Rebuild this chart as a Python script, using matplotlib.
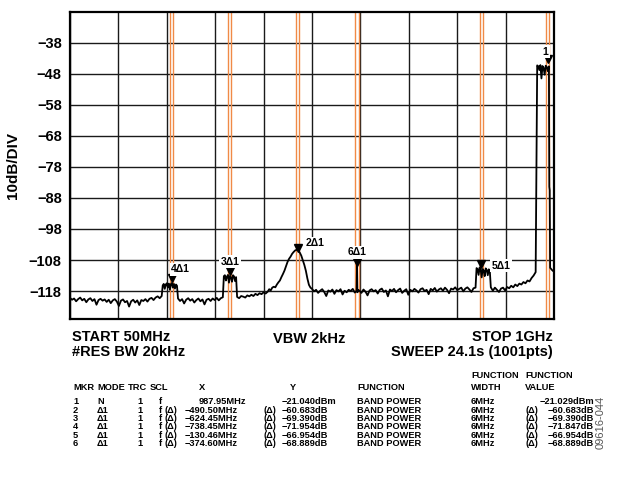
import numpy as np
import matplotlib.pyplot as plt
from matplotlib.transforms import ScaledTranslation

plt.rcParams['font.family'] = ['Liberation Sans', 'DejaVu Sans']
plt.rcParams['font.weight'] = 'bold'

MINUS = '\u2212'
DELTA = '\u0394'
W, H = 617, 497

# sweep settings (MHz) and display scale
start_mhz, stop_mhz = 50, 1000
y_ticks = [-38, -48, -58, -68, -78, -88, -98, -108, -118]
y_range = (-127.1, -28.1)

# trace readings, (first MHz, last MHz, levels in dB), evenly spaced in each run
floor_a = (50, 230, [-120.2, -120.8, -120.4, -121.3, -120.6, -120.1, -121.0, -120.5, -121.6, -120.7,
                     -120.3, -121.2, -120.6, -122.4, -120.9, -120.5, -121.1, -120.7, -121.5, -120.8,
                     -121.9, -121.0, -120.6, -121.4, -122.8, -121.1, -120.7, -121.6, -121.2, -123.0,
                     -121.3, -120.8, -121.7, -121.0, -122.5, -120.9, -121.2, -120.6, -121.4, -120.5,
                     -120.2, -120.9, -120.1, -119.7, -120.3, -119.6])
band_4 = (232, 260, [-116.2, -115.7, -117.3, -115.9, -115.5, -116.8, -115.6, -117.6, -115.8, -115.4,
                     -116.9, -115.7, -117.2, -115.9, -116.3])
floor_c = (262, 350, [-120.4, -121.2, -120.6, -122.0, -120.8, -120.3, -121.1, -120.6, -121.7, -120.9,
                      -120.4, -121.3, -120.7, -122.3, -120.8, -120.5, -121.2, -120.4, -120.9, -120.2,
                      -121.0, -120.3, -120.0])
band_3 = (352, 376, [-113.2, -112.9, -114.6, -113.4, -112.8, -115.3, -113.1, -113.6, -115.0, -112.9,
                     -113.3, -114.8, -113.5])
floor_e = (378, 438, [-119.9, -120.3, -119.6, -119.8, -120.1, -119.4, -119.7, -119.2, -119.6, -118.9,
                      -119.3, -118.7, -119.0, -118.4, -118.8, -118.2])
peak_2 = (441, 522, [-117.4, -117.8, -116.9, -116.6, -116.8, -115.9, -115.2, -114.6, -113.5, -112.5,
                     -111.4, -110.0, -108.6, -107.6, -106.9, -106.0, -105.4, -104.9, -104.7, -104.9,
                     -105.6, -106.6, -108.1, -109.6, -111.5, -114.0, -116.0, -116.9])
floor_f = (525, 609, [-117.3, -118.1, -117.6, -118.6, -117.9, -117.4, -118.3, -119.6, -117.8, -118.2,
                      -117.5, -118.9, -117.7, -118.1, -117.4, -119.1, -117.9, -118.4, -117.6, -118.0,
                      -117.3, -118.5])
floor_g = (618, 846, [-117.9, -118.6, -117.5, -118.2, -119.4, -117.8, -117.4, -118.1, -117.7, -118.8,
                      -117.6, -117.2, -118.3, -117.8, -119.7, -117.5, -118.0, -117.3, -118.4, -117.7,
                      -117.2, -118.6, -117.9, -117.4, -119.2, -117.6, -118.1, -117.3, -117.8, -118.5,
                      -117.4, -117.1, -118.0, -117.6, -119.0, -117.3, -117.8, -117.0, -118.2, -117.5,
                      -117.1, -117.9, -116.9, -117.6, -118.7, -117.2, -117.5, -116.8, -117.7, -117.3,
                      -116.9, -118.1, -117.2, -116.8, -117.5, -118.3, -117.1, -116.9])
band_5 = (848, 874, [-110.6, -110.9, -112.8, -110.4, -111.0, -113.6, -110.9, -111.4, -113.2, -110.7,
                     -111.2, -112.9, -111.0, -111.5])
floor_i = (876, 964, [-116.8, -117.9, -116.9, -117.6, -118.3, -117.2, -116.9, -117.8, -116.7, -117.1,
                      -116.3, -116.8, -115.9, -116.4, -115.6, -115.9, -115.1, -115.5, -114.6, -114.9,
                      -113.8, -113.0, -111.9])
carrier = (967, 990, [-45.3, -45.6, -46.8, -45.2, -49.5, -45.5, -46.1, -48.3, -45.4, -45.8,
                      -47.2, -45.6])
runs = [floor_a, band_4, floor_c, band_3, floor_e, peak_2, floor_f, floor_g, band_5, floor_i, carrier]

# single readings around the narrow spur and the carrier roll-off
spur_mhz = [611.5, 612.6, 613.35, 614.1, 615.5]
spur_db = [-118.1, -117.6, -109.3, -118.4, -117.6]
rolloff_mhz = [990.8, 991.6, 992.4, 996.0, 1000.0]
rolloff_db = [-84.4, -85.5, -110.5, -111.2, -111.8]

# marker table
mkr_id = [1, 2, 3, 4, 5, 6]
mkr_mode = ['N', DELTA + '1', DELTA + '1', DELTA + '1', DELTA + '1', DELTA + '1']
mkr_x = [987.95, -490.50, -624.45, -738.45, -130.46, -374.60]
mkr_y = [-21.040, -60.683, -69.390, -71.954, -66.954, -68.889]
band_power = [-21.029, -60.683, -69.390, -71.847, -66.954, -68.889]
band_width_mhz = 6
# level of each marker on the displayed trace
mkr_level = [-44.6, -105.3, -112.8, -115.0, -110.4, -110.0]

freq = np.concatenate([np.linspace(a, b, len(v)) for a, b, v in runs] + [spur_mhz, rolloff_mhz])
level = np.concatenate([v for _, _, v in runs] + [spur_db, rolloff_db])
order = np.argsort(freq)
freq, level = freq[order], level[order]

mkr_freq = [mkr_x[0]] + [mkr_x[0] + d for d in mkr_x[1:]]


def fx(px):
    return px / W


def fy(py):
    return 1 - py / H


def neg(s):
    return s.replace('-', MINUS)


fig = plt.figure(figsize=(W / 100, H / 100), dpi=100)
ax = fig.add_axes([fx(70), fy(319.3), fx(554) - fx(70), fy(12) - fy(319.3)])
ax.set_xlim(start_mhz, stop_mhz)
ax.set_ylim(*y_range)
ax.set_xticks(np.arange(start_mhz, stop_mhz + 1, 95))
ax.set_xticklabels([])
ax.set_yticks(y_ticks)
ax.set_yticklabels([neg(str(t)) for t in y_ticks], fontsize=10.5, fontweight='bold')
ax.tick_params(length=0, pad=6)
ax.grid(True, color='#1a1a1a', lw=1.0, zorder=1)
ax.set_axisbelow(True)
for s in ax.spines.values():
    s.set_linewidth(1.6)
ax.set_ylabel('10dB/DIV', fontsize=11, fontweight='bold', labelpad=6)

# band power integration limits
for f in mkr_freq:
    for edge in (-band_width_mhz / 2, band_width_mhz / 2):
        ax.axvline(f + edge, color='#f08a46', lw=1.0, zorder=2)

ax.plot(freq, level, color='black', lw=1.3, zorder=3)

# marker triangles sit with their tip on the trace
ms = 5.5
lift = ax.transData + ScaledTranslation(0, ms / 2 / 72, fig.dpi_scale_trans)
ax.plot(mkr_freq, mkr_level, 'v', color='black', ms=ms, transform=lift, zorder=5)

mkr_names = ['1'] + [f'{i}{DELTA}1' for i in mkr_id[1:]]
# label offsets in points from the marker tip
label_off = [(-1.7, 8.4), (5.8, 6.0), (0, 9.6), (-0.4, 8.9), (7.4, 1.2), (0, 9.9)]
label_ha = ['center', 'left', 'center', 'left', 'left', 'center']
for f, lv, name, off, ha in zip(mkr_freq, mkr_level, mkr_names, label_off, label_ha):
    ax.annotate(name, (f, lv), xytext=off, textcoords='offset points', ha=ha, va='center',
                fontsize=7.5, fontweight='bold', zorder=6,
                bbox=dict(boxstyle='square,pad=0.15', fc='white', ec='none'))

# instrument settings
fs = 10.5
fig.text(fx(72), fy(337), 'START 50MHz', fontsize=fs, va='center', ha='left')
fig.text(fx(72), fy(352), '#RES BW 20kHz', fontsize=fs, va='center', ha='left')
fig.text(fx(309), fy(339), 'VBW 2kHz', fontsize=fs, va='center', ha='center')
fig.text(fx(553), fy(337), 'STOP 1GHz', fontsize=fs, va='center', ha='right')
fig.text(fx(553), fy(352), 'SWEEP 24.1s (1001pts)', fontsize=fs, va='center', ha='right')

# marker table
ts = 6.7
for x, t in [(471, 'FUNCTION'), (525, 'FUNCTION')]:
    fig.text(fx(x), fy(376), t, fontsize=ts, va='center')
for x, t in [(73, 'MKR'), (97, 'MODE'), (128, 'TRC'), (150, 'SCL'), (199, 'X'), (290, 'Y'),
             (357, 'FUNCTION'), (471, 'WIDTH'), (525, 'VALUE')]:
    fig.text(fx(x), fy(387), t, fontsize=ts, va='center')

tag = '(' + DELTA + ')'
row_y = [402, 410.3, 418.6, 426.9, 435.2, 443.5]
for i, y in enumerate(row_y):
    delta = i > 0
    unit = 'dB' if delta else 'dBm'
    cells = [(73, str(mkr_id[i])), (97, mkr_mode[i]), (137, '1'), (159, 'f'),
             (185 if delta else 199, neg(f'{mkr_x[i]:.2f}MHz')),
             (282, neg(f'{mkr_y[i]:.3f}{unit}')),
             (357, 'BAND POWER'), (471, f'{band_width_mhz}MHz')]
    if delta:
        cells += [(165, tag), (263, tag), (525, tag)]
    for x, t in cells:
        fig.text(fx(x), fy(y), t, fontsize=ts, va='center')
    fig.text(fx(594), fy(y), neg(f'{band_power[i]:.3f}{unit}'), fontsize=ts, va='center', ha='right')

fig.text(fx(601), fy(422), '09616-044', fontsize=8, fontweight='normal', color='#555555',
         rotation=90, va='center', ha='center')

fig.savefig('out.png', dpi=100)
